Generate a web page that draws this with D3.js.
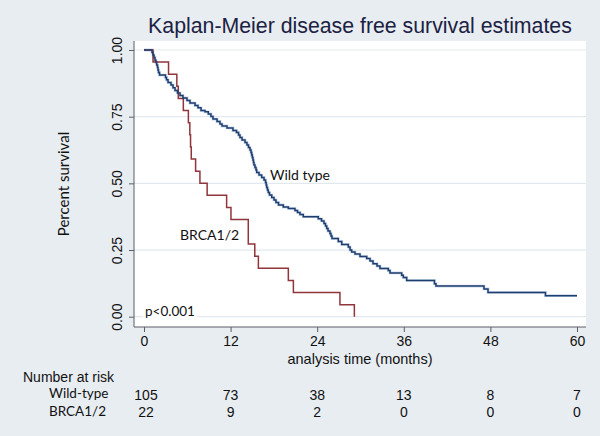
<!DOCTYPE html>
<html>
<head>
<meta charset="utf-8">
<script src="https://cdn.jsdelivr.net/npm/d3@7"></script>
<style>
  html, body { margin: 0; padding: 0; background: #e8edf1; }
  svg { display: block; }
</style>
</head>
<body>
<svg id="chart" width="600" height="436"></svg>
<script>
// ---------------- data ----------------
const title = "Kaplan-Meier disease free survival estimates";
const xTicks = [0, 12, 24, 36, 48, 60];
const yTicks = [0, 0.25, 0.5, 0.75, 1];
const groups = ["Wild-type", "BRCA1/2"];
const riskWild = [105, 73, 38, 13, 8, 7];
const riskBrca = [22, 9, 2, 0, 0, 0];

// Wild type: event times (months) and survival after each step
const wildTimes = [0, 1.11, 1.25, 1.39, 1.52, 1.66, 1.76, 1.87, 1.94, 2.01, 2.15,
  2.98, 3.12, 3.33, 3.74, 4.02, 4.30, 4.64, 4.99, 5.40, 5.96,
  6.37, 7.07, 7.48, 7.90, 8.45, 8.91, 9.28, 9.56, 10.12, 10.53,
  10.81, 11.50, 12.33, 12.82, 13.10, 13.30, 13.58, 14.00, 14.27, 14.48,
  14.69, 14.83, 14.92, 15.01, 15.10, 15.17, 15.24, 15.38, 15.52, 15.62,
  15.94, 16.31, 16.63, 16.84, 16.93, 17.00, 17.11, 17.22, 17.39, 17.70,
  18.01, 18.29, 18.64, 19.30, 20.00, 20.92, 21.27, 21.62, 22.07, 24.15,
  24.60, 24.94, 25.15, 25.32, 25.50, 25.77, 25.91, 26.05, 26.92, 27.40,
  28.31, 28.55, 28.78, 29.24, 29.93, 30.86, 31.32, 31.73, 32.29, 32.70,
  33.85, 34.09, 35.71, 35.93, 36.40, 40.25, 40.46, 47.11, 47.67, 55.63, 60];
const wildSurv = [1, 0.991, 0.981, 0.972, 0.962, 0.953, 0.944, 0.934, 0.925, 0.916, 0.906,
  0.897, 0.888, 0.878, 0.869, 0.858, 0.848, 0.839, 0.829, 0.820, 0.811,
  0.801, 0.792, 0.783, 0.773, 0.768, 0.760, 0.751, 0.741, 0.732, 0.723,
  0.715, 0.708, 0.698, 0.691, 0.681, 0.672, 0.663, 0.653, 0.644, 0.634,
  0.625, 0.616, 0.606, 0.597, 0.588, 0.578, 0.569, 0.559, 0.550, 0.541,
  0.531, 0.522, 0.513, 0.503, 0.494, 0.484, 0.475, 0.466, 0.456, 0.447,
  0.438, 0.428, 0.419, 0.411, 0.406, 0.398, 0.391, 0.383, 0.375, 0.367,
  0.359, 0.349, 0.340, 0.331, 0.321, 0.312, 0.303, 0.293, 0.282, 0.271,
  0.261, 0.250, 0.243, 0.235, 0.226, 0.218, 0.209, 0.199, 0.190, 0.181,
  0.173, 0.164, 0.155, 0.147, 0.136, 0.124, 0.115, 0.104, 0.091, 0.079, 0.079];

// BRCA1/2
const brcaTimes = [0, 1.25, 3.40, 4.55, 4.75, 5.45, 6.15, 6.35, 6.45, 6.55, 7.15,
  7.75, 8.75, 11.45, 12.05, 14.45, 15.35, 15.85, 20.00, 20.70, 27.15, 29.15];
const brcaSurv = [1, 0.955, 0.909, 0.864, 0.818, 0.773, 0.727, 0.682, 0.636, 0.591, 0.545,
  0.500, 0.455, 0.409, 0.364, 0.273, 0.227, 0.182, 0.136, 0.091, 0.045, 0];

// ---------------- layout ----------------
const svg = d3.select("#chart");
const plot = { left: 134, right: 586, top: 41, bottom: 327 };
const x = d3.scaleLinear().domain([0, 60]).range([144, 577]);
const y = d3.scaleLinear().domain([0, 1]).range([316.7, 50]);

const calibri = "Lato, 'Open Sans', sans-serif";
const arial = "'Liberation Sans', Arial, sans-serif";
const axisCol = "#5a5f66";

// background
svg.append("rect").attr("width", 600).attr("height", 436).attr("fill", "#e8edf1");
svg.append("rect")
  .attr("x", plot.left).attr("y", plot.top)
  .attr("width", plot.right - plot.left).attr("height", plot.bottom - plot.top)
  .attr("fill", "#ffffff");

// gridlines
svg.append("g").selectAll("line").data(yTicks).join("line")
  .attr("x1", plot.left).attr("x2", plot.right)
  .attr("y1", d => y(d)).attr("y2", d => y(d))
  .attr("stroke", "#e1e9ee").attr("stroke-width", 1.2);

// title
svg.append("text")
  .attr("x", 360).attr("y", 33)
  .attr("text-anchor", "middle")
  .attr("font-family", arial).attr("font-size", 21.3)
  .attr("fill", "#1b2142")
  .text(title);

// y axis
const yAxis = svg.append("g")
  .attr("transform", `translate(${plot.left},0)`)
  .call(d3.axisLeft(y).tickValues(yTicks).tickFormat(d3.format(".2f")).tickSize(5).tickPadding(0));
yAxis.select(".domain").remove();
yAxis.selectAll(".tick line").attr("stroke", axisCol);
yAxis.selectAll(".tick text")
  .attr("transform", "rotate(-90)")
  .attr("x", 0).attr("y", -12.5).attr("dy", 0)
  .attr("text-anchor", "middle")
  .attr("font-family", arial).attr("font-size", 14)
  .attr("fill", "#111");
svg.append("line")
  .attr("x1", plot.left).attr("x2", plot.left)
  .attr("y1", plot.top).attr("y2", plot.bottom)
  .attr("stroke", axisCol).attr("stroke-width", 1);

// x axis
const xAxis = svg.append("g")
  .attr("transform", `translate(0,${plot.bottom})`)
  .call(d3.axisBottom(x).tickValues(xTicks).tickSize(5).tickPadding(4));
xAxis.select(".domain").remove();
xAxis.selectAll(".tick line").attr("stroke", axisCol);
xAxis.selectAll(".tick text")
  .attr("font-family", arial).attr("font-size", 14)
  .attr("fill", "#111");
svg.append("line")
  .attr("x1", plot.left).attr("x2", plot.right)
  .attr("y1", plot.bottom).attr("y2", plot.bottom)
  .attr("stroke", axisCol).attr("stroke-width", 1);

// axis titles
svg.append("text")
  .attr("transform", "translate(69,184) rotate(-90)")
  .attr("text-anchor", "middle")
  .attr("font-family", calibri).attr("font-size", 15)
  .attr("fill", "#111")
  .text("Percent survival");
svg.append("text")
  .attr("x", 360).attr("y", 363.5)
  .attr("text-anchor", "middle")
  .attr("font-family", arial).attr("font-size", 14.5)
  .attr("fill", "#111")
  .text("analysis time (months)");

// curves
const line = d3.line().x(d => x(d[0])).y(d => y(d[1])).curve(d3.curveStepAfter);
const wildData = wildTimes.map((t, i) => [t, wildSurv[i]]);
const brcaData = brcaTimes.map((t, i) => [t, brcaSurv[i]]);

svg.append("path").datum(wildData).attr("d", line)
  .attr("fill", "none").attr("stroke", "#c8d8e9").attr("stroke-width", 2.8);
svg.append("path").datum(brcaData).attr("d", line)
  .attr("fill", "none").attr("stroke", "#90353b").attr("stroke-width", 1.5);
svg.append("path").datum(wildData).attr("d", line)
  .attr("fill", "none").attr("stroke", "#1f3d6e").attr("stroke-width", 1.5);

// annotations
svg.append("text").attr("x", 270).attr("y", 180)
  .attr("font-family", calibri).attr("font-size", 14).attr("fill", "#111")
  .text("Wild type");
svg.append("text").attr("x", 180).attr("y", 240)
  .attr("font-family", calibri).attr("font-size", 14).attr("fill", "#111")
  .text("BRCA1/2");
svg.append("rect").attr("x", 143).attr("y", 303).attr("width", 54).attr("height", 17)
  .attr("fill", "#ffffff");
svg.append("text").attr("x", 145).attr("y", 315.5)
  .attr("font-family", calibri).attr("font-size", 13.5).attr("fill", "#111")
  .text("p<0.001");

// number at risk table
svg.append("text").attr("x", 23).attr("y", 382)
  .attr("font-family", arial).attr("font-size", 14).attr("fill", "#111")
  .text("Number at risk");
const rows = [riskWild, riskBrca];
const rowY = [400, 417];
const labelY = [398, 416];
groups.forEach((g, i) => {
  svg.append("text").attr("x", 49).attr("y", labelY[i])
    .attr("font-family", calibri).attr("font-size", 13.5).attr("fill", "#111")
    .text(g);
  svg.append("g").selectAll("text").data(rows[i]).join("text")
    .attr("x", (d, j) => x(xTicks[j]) + (j === 0 ? 2 : 0))
    .attr("y", rowY[i])
    .attr("text-anchor", "middle")
    .attr("font-family", arial).attr("font-size", 14).attr("fill", "#111")
    .text(d => d);
});
</script>
</body>
</html>
